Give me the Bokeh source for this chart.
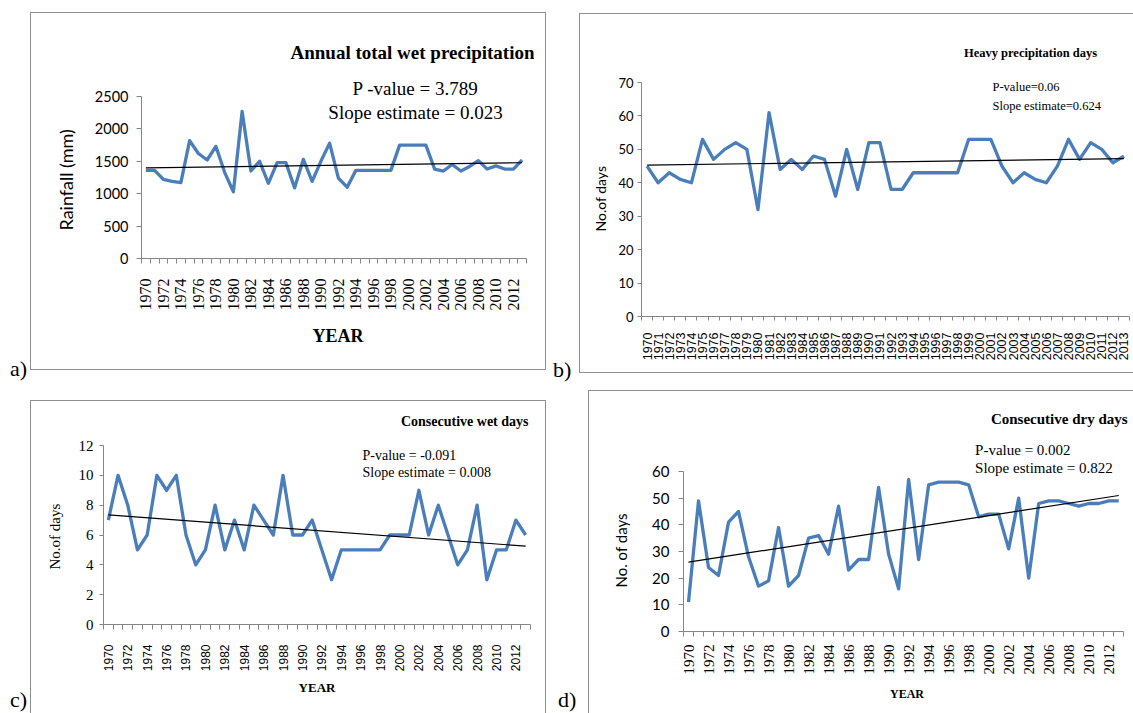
import math
from bokeh.plotting import figure
from bokeh.models import FixedTicker, Label, Div, Spacer, Range1d, Title
from bokeh.layouts import row, column
from bokeh.embed import file_html
from bokeh.resources import INLINE

# ---------------- data ----------------
years = list(range(1970, 2014))

rain_total = [1360, 1360, 1220, 1190, 1170, 1820, 1620, 1520, 1730, 1330,
              1030, 2270, 1350, 1500, 1160, 1480, 1480, 1090, 1530, 1190,
              1500, 1780, 1240, 1100, 1360, 1360, 1360, 1360, 1360, 1750,
              1750, 1750, 1750, 1380, 1350, 1450, 1350, 1420, 1510, 1380,
              1430, 1380, 1380, 1520]
heavy_days = [45, 40, 43, 41, 40, 53, 47, 50, 52, 50,
              32, 61, 44, 47, 44, 48, 47, 36, 50, 38,
              52, 52, 38, 38, 43, 43, 43, 43, 43, 53,
              53, 53, 45, 40, 43, 41, 40, 45, 53, 47,
              52, 50, 46, 48]
wet_days = [7, 10, 8, 5, 6, 10, 9, 10, 6, 4,
            5, 8, 5, 7, 5, 8, 7, 6, 10, 6,
            6, 7, 5, 3, 5, 5, 5, 5, 5, 6,
            6, 6, 9, 6, 8, 6, 4, 5, 8, 3,
            5, 5, 7, 6]
dry_days = [11, 49, 24, 21, 41, 45, 28, 17, 19, 39,
            17, 21, 35, 36, 29, 47, 23, 27, 27, 54,
            29, 16, 57, 27, 55, 56, 56, 56, 55, 43,
            44, 44, 31, 50, 20, 48, 49, 49, 48, 47,
            48, 48, 49, 49]

# trend line end values (1970, 2013)
rain_trend = [1400, 1478]
heavy_trend = [45.3, 47.2]
wet_trend = [7.35, 5.25]
dry_trend = [26, 51]

rain_yticks = [0, 500, 1000, 1500, 2000, 2500]
heavy_yticks = [0, 10, 20, 30, 40, 50, 60, 70]
wet_yticks = [0, 2, 4, 6, 8, 10, 12]
dry_yticks = [0, 10, 20, 30, 40, 50, 60]

even_years = years[::2]
all_years = years

BLUE = "#4A7EBB"
AXIS = "#868686"
BORDER = "1.5px solid #8e8e8e"
SERIF = "Liberation Serif"
SANS = "Lato"


class Panel:
    """Figure whose frame reaches up to the box top so header texts fit inside it.
    geometry (page px): box left/top, width, height, frame left/right,
    axis top (y = ymax), frame bottom, frame top."""

    def __init__(self, box_l, box_t, w, h, fl, fr, at, fb, ft, ymax, yticks,
                 xlabels, values, trend, sides):
        self.fl, self.fr, self.fb, self.at, self.ymax = fl, fr, fb, at, ymax
        self.x0 = years[0] - 0.5
        self.x1 = years[-1] + 0.5
        self.cw = None
        styles = {"box-sizing": "border-box"}
        for s in sides:
            styles["border-" + s] = BORDER
        y_end = ymax * (fb - ft) / (fb - at)
        p = figure(width=w, height=h, output_backend="svg", toolbar_location=None,
                   y_range=Range1d(0, y_end),
                   min_border_left=fl - box_l, min_border_right=box_l + w - fr,
                   min_border_top=ft - box_t, min_border_bottom=box_t + h - fb,
                   styles=styles)
        self.p = p
        p.border_fill_color = None
        p.background_fill_color = None
        p.outline_line_color = None
        p.xgrid.visible = False
        p.ygrid.visible = False
        minor = [y - 0.5 for y in years] + [years[-1] + 0.5]
        p.xaxis.ticker = FixedTicker(ticks=xlabels, minor_ticks=minor)
        p.xaxis.bounds = (self.x0, self.x1)
        p.xaxis.major_label_orientation = math.pi / 2
        p.xaxis.major_tick_out = 0
        p.xaxis.major_tick_in = 0
        p.xaxis.minor_tick_out = 5
        p.xaxis.minor_tick_in = 0
        p.xaxis.minor_tick_line_color = AXIS
        p.xaxis.axis_line_color = AXIS
        p.yaxis.ticker = FixedTicker(ticks=yticks, minor_ticks=[])
        p.yaxis.bounds = (0, ymax)
        p.yaxis.major_tick_out = 5
        p.yaxis.major_tick_in = 0
        p.yaxis.major_tick_line_color = AXIS
        p.yaxis.axis_line_color = AXIS
        p.yaxis.minor_tick_line_color = None
        for ax in (p.xaxis, p.yaxis):
            ax.major_label_text_color = "black"
            ax.axis_label_text_color = "black"
            ax.axis_label_text_font_style = "normal"
        p.line(years, values, line_color=BLUE, line_width=3.3, line_join="round")
        p.line([years[0], years[-1]], trend, line_color="black", line_width=1.2)

    def set_x(self, plot_right):
        # plot_right: page x where the category axis ends (year 2013.5)
        cw = (plot_right - self.fl) / 44.0
        self.cw = cw
        x_end = self.x1 + (self.fr - plot_right) / cw
        self.p.x_range = Range1d(self.x0, x_end)

    def xd(self, px):
        return self.x0 + (px - self.fl) / self.cw

    def yd(self, py):
        return self.ymax * (self.fb - py) / (self.fb - self.at)

    def text(self, px, py, text, size, bold=False, align="center"):
        self.p.add_layout(Label(x=self.xd(px), y=self.yd(py), text=text, text_font=SERIF,
                                text_font_size=size,
                                text_font_style="bold" if bold else "normal",
                                text_align=align, text_baseline="middle",
                                text_color="black"))

    def ylabel(self, text, font, size, offset, standoff):
        self.p.add_layout(Title(text=text, align="left", offset=offset, standoff=standoff,
                                text_font=font, text_font_size=size,
                                text_font_style="normal", text_color="black"), "left")


# ---------------- panel a ----------------
A = Panel(30, 12, 516, 358, 140, 533, 95, 257, 16, 2500, rain_yticks, even_years,
          rain_total, rain_trend, ["top", "left", "right", "bottom"])
A.set_x(525)
pa = A.p
pa.yaxis.major_label_text_font = SANS
pa.yaxis.major_label_text_font_size = "14.5px"
pa.yaxis.major_label_standoff = 8
A.ylabel("Rainfall (mm)", SANS, "18px", 28, 29)
pa.xaxis.major_label_text_font = SERIF
pa.xaxis.major_label_text_font_size = "16px"
pa.xaxis.major_label_standoff = 15
pa.xaxis.axis_label = "YEAR"
pa.xaxis.axis_label_text_font = SERIF
pa.xaxis.axis_label_text_font_style = "bold"
pa.xaxis.axis_label_text_font_size = "18px"
pa.xaxis.axis_label_standoff = 12
A.text(533, 51, "Annual total wet precipitation", "19px", bold=True, align="right")
A.text(414, 87, "P -value = 3.789", "19px")
A.text(414, 111, "Slope estimate = 0.023", "19px")

# ---------------- panel b ----------------
B = Panel(579, 13, 554, 360, 640, 1128, 81, 315, 17, 70, heavy_yticks, all_years,
          heavy_days, heavy_trend, ["top", "left", "bottom"])
B.set_x(1128)
pb = B.p
pb.yaxis.major_label_text_font = SANS
pb.yaxis.major_label_text_font_size = "13px"
pb.yaxis.major_tick_out = 4
pb.yaxis.major_label_standoff = 4
B.ylabel("No.of days", SANS, "14px", 85, 14)
pb.xaxis.major_label_text_font = "Liberation Sans"
pb.xaxis.major_label_text_font_size = "12.5px"
pb.xaxis.major_label_standoff = 12
pb.xaxis.minor_tick_out = 4
B.text(1029, 51, "Heavy precipitation days", "12.5px", bold=True)
B.text(991, 85, "P-value=0.06", "12.5px", align="left")
B.text(991, 104, "Slope estimate=0.624", "12.5px", align="left")

# ---------------- panel c ----------------
C = Panel(30, 400, 516, 313, 102, 529, 444, 623, 404, 12, wet_yticks, even_years,
          wet_days, wet_trend, ["top", "left", "right"])
C.set_x(529)
pc = C.p
pc.yaxis.major_label_text_font = SERIF
pc.yaxis.major_label_text_font_size = "15px"
pc.yaxis.major_tick_out = 4
pc.yaxis.major_label_standoff = 6
C.ylabel("No.of days", SERIF, "15px", 55, 26)
pc.xaxis.major_label_text_font = "Liberation Sans"
pc.xaxis.major_label_text_font_size = "12px"
pc.xaxis.major_label_standoff = 15
pc.xaxis.axis_label = "YEAR"
pc.xaxis.axis_label_text_font = SERIF
pc.xaxis.axis_label_text_font_style = "bold"
pc.xaxis.axis_label_text_font_size = "13px"
pc.xaxis.axis_label_standoff = 6
C.text(527, 420, "Consecutive wet days", "14px", bold=True, align="right")
C.text(361, 454, "P-value = -0.091", "14px", align="left")
C.text(361, 471, "Slope estimate = 0.008", "14px", align="left")

# ---------------- panel d ----------------
D = Panel(588, 390, 545, 323, 666, 1129, 470, 630, 394, 60, dry_yticks, even_years,
          dry_days, dry_trend, ["top", "left"])
D.set_x(1122)
pd = D.p
pd.yaxis.major_label_text_font = SANS
pd.yaxis.major_label_text_font_size = "15px"
pd.yaxis.major_label_standoff = 9
D.ylabel("No. of days", SANS, "15px", 44, 40)
pd.xaxis.major_label_text_font = SERIF
pd.xaxis.major_label_text_font_size = "15px"
pd.xaxis.major_label_standoff = 8
pd.xaxis.axis_label = "YEAR"
pd.xaxis.axis_label_text_font = SERIF
pd.xaxis.axis_label_text_font_style = "bold"
pd.xaxis.axis_label_text_font_size = "12px"
pd.xaxis.axis_label_standoff = 9
D.text(1126, 417, "Consecutive dry days", "15px", bold=True, align="right")
D.text(968, 448, "P-value = 0.002", "15px", align="left")
D.text(968, 466, "Slope estimate = 0.822", "15px", align="left")


# ---------------- panel letters ----------------
def letter(text, w, h, pad_left, shift):
    st = {"font-family": SERIF, "font-size": "22px", "line-height": "22px",
          "color": "black", "padding-left": "%dpx" % pad_left,
          "box-sizing": "border-box", "overflow": "visible"}
    return Div(text='<div style="position:relative;top:%dpx">%s</div>' % (shift, text),
               width=w, height=h, margin=0, styles=st)


col_a = column(Spacer(width=30, height=334, margin=0), letter("a)", 30, 24, 10, 12))
col_c = column(Spacer(width=30, height=289, margin=0), letter("c)", 30, 24, 10, 0))
col_b = column(Spacer(width=33, height=336, margin=0), letter("b)", 33, 24, 7, 10))
col_d = column(Spacer(width=42, height=299, margin=0), letter("d)", 42, 24, 12, 0))

left = column(Spacer(width=10, height=12, margin=0), row(col_a, A.p),
              Spacer(width=10, height=30, margin=0), row(col_c, C.p))
right = column(Spacer(width=10, height=13, margin=0), row(col_b, B.p),
               Spacer(width=10, height=17, margin=0), row(col_d, D.p))
layout = row(left, right)

open("out.html", "w").write(file_html(layout, INLINE))
